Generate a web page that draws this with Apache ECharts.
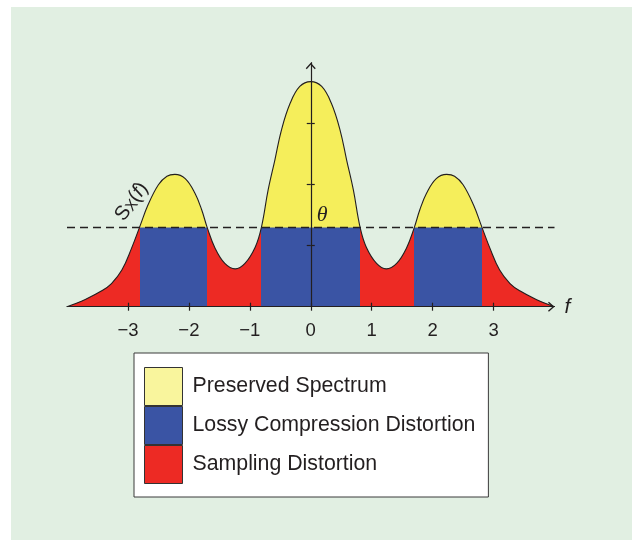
<!DOCTYPE html>
<html>
<head>
<meta charset="utf-8">
<script src="https://cdn.jsdelivr.net/npm/echarts@6/dist/echarts.min.js"></script>
<style>
html,body{margin:0;padding:0;background:#ffffff;}
#wrap{position:relative;width:637px;height:540px;overflow:hidden;}
#panel{position:absolute;left:11px;top:7px;width:621px;height:533px;background:#e1efe2;}
#chart{position:absolute;left:0;top:0;width:637px;height:540px;}
</style>
</head>
<body>
<div id="wrap"><div id="panel"></div><div id="chart"></div></div>
<script>
// ---- data ----
const fValues = [-4.00,-3.70,-3.43,-3.27,-3.10,-2.94,-2.81,-2.67,-2.50,-2.36,-2.23,-2.06,-1.90,-1.79,-1.70,-1.57,-1.41,-1.24,-1.08,-0.91,-0.81,-0.70,-0.59,-0.48,-0.34,-0.18,0.00,
                 0.18,0.34,0.48,0.59,0.70,0.81,0.91,1.08,1.24,1.41,1.57,1.70,1.79,1.90,2.06,2.23,2.36,2.50,2.67,2.81,2.94,3.10,3.27,3.43,3.70,4.00];
const sxValues = [0.00,0.12,0.26,0.38,0.60,0.96,1.30,1.67,2.00,2.14,2.17,2.10,1.86,1.59,1.30,0.96,0.71,0.62,0.71,0.98,1.30,1.91,2.40,2.90,3.33,3.61,3.69,
                  3.61,3.33,2.90,2.40,1.91,1.30,0.98,0.71,0.62,0.71,0.96,1.30,1.59,1.86,2.10,2.17,2.14,2.00,1.67,1.30,0.96,0.60,0.38,0.26,0.12,0.00];
const THETA = 1.30;
const xTickValues = [-3,-2,-1,0,1,2,3];
const yTickValues = [1,2,3];
const legendNames = ['Preserved Spectrum','Lossy Compression Distortion','Sampling Distortion'];
const axisName = 'f';
const thetaLabel = 'θ';

// ---- styles ----
const YELLOW = '#f5ee5b', YELLOW_LEGEND = '#f9f59d', BLUE = '#3a54a4', RED = '#ed2a24', INK = '#231f20';
const CLEAR = 'rgba(237,42,36,0)';
const SMOOTH = 0.4;
const ARROW = 'path://M0,5.6 L5,0 L10,5.6 L9,6.5 L5,2 L1,6.5 Z';
const SX_LABEL_AT = [-2.94, 1.72];
const SX_LABEL_ROTATE = 54;

// ---- derived series data ----
const curve = fValues.map((f, i) => [f, sxValues[i]]);
const thetaBand = fValues.map(f => [f, THETA]);          // coloured by interval below
const crossings = fValues.filter((f, i) => sxValues[i] === THETA);
const edges = [fValues[0]].concat(crossings, [fValues[fValues.length - 1]]);
function makePieces(outsideColor, insideColor) {
  const out = [];
  for (let i = 0; i < edges.length - 1; i++) {
    out.push({ gte: edges[i], lte: edges[i + 1], color: i % 2 === 0 ? outsideColor : insideColor });
  }
  return out;
}

const axisLineStyle = { color: INK, width: 1.2 };
const chart = echarts.init(document.getElementById('chart'), null, { renderer: 'canvas' });

chart.setOption({
  animation: false,
  backgroundColor: 'transparent',
  grid: { left: 67, right: 82.5, top: 62.7, bottom: 233.3, containLabel: false, outerBoundsMode: 'none' },
  legend: {
    orient: 'vertical', left: 134, top: 353,
    itemWidth: 38, itemHeight: 38, itemGap: 0,
    padding: [14, 13, 13, 10],
    backgroundColor: '#ffffff', borderColor: '#3a3a3a', borderWidth: 1,
    icon: 'rect', selectedMode: false,
    itemStyle: { borderColor: '#333333', borderWidth: 1 },
    textStyle: { fontFamily: 'Liberation Sans', fontSize: 21.3, color: INK, padding: [0, 0, 0, 5] },
    data: [
      { name: legendNames[0], itemStyle: { color: YELLOW_LEGEND } },
      { name: legendNames[1], itemStyle: { color: BLUE } },
      { name: legendNames[2], itemStyle: { color: RED } }
    ]
  },
  visualMap: [
    { type: 'piecewise', show: false, seriesIndex: 0, dimension: 0, pieces: makePieces(RED, YELLOW) },
    { type: 'piecewise', show: false, seriesIndex: 1, dimension: 0, pieces: makePieces(RED, CLEAR) },
    { type: 'piecewise', show: false, seriesIndex: 2, dimension: 0, pieces: makePieces(CLEAR, BLUE) }
  ],
  xAxis: [
    {
      type: 'value', min: -4, max: 4, z: 10,
      name: axisName, nameLocation: 'end', nameGap: 10,
      nameTextStyle: { fontFamily: 'Liberation Sans', fontStyle: 'italic', fontSize: 21, color: INK },
      axisLine: { show: true, onZero: true, onZeroAxisIndex: 0, symbol: ['none', ARROW], symbolSize: [10, 6.5], symbolOffset: [0, -3.25], lineStyle: axisLineStyle },
      axisTick: { show: true, customValues: xTickValues, length: 4, lineStyle: axisLineStyle },
      axisLabel: { show: true, customValues: xTickValues, margin: 15, fontFamily: 'Liberation Sans', fontSize: 18.5, color: INK,
                   formatter: v => String(v).replace('-', '\u2212') },
      splitLine: { show: false }
    },
    {
      type: 'value', min: -4, max: 4, position: 'top', z: 10,
      axisLine: { show: false, onZero: true, onZeroAxisIndex: 1 },
      axisTick: { show: true, customValues: xTickValues, length: 4, lineStyle: axisLineStyle },
      axisLabel: { show: false }, splitLine: { show: false }
    }
  ],
  yAxis: [
    {
      type: 'value', min: 0, max: 4, z: 10,
      axisLine: { show: true, onZero: true, onZeroAxisIndex: 0, symbol: ['none', ARROW], symbolSize: [10, 6.5], symbolOffset: [0, -3.25], lineStyle: axisLineStyle },
      axisTick: { show: true, customValues: yTickValues, length: 4, lineStyle: axisLineStyle },
      axisLabel: { show: false }, splitLine: { show: false }
    },
    {
      type: 'value', min: 0, max: 4, position: 'right', z: 10,
      axisLine: { show: false, onZero: true, onZeroAxisIndex: 1 },
      axisTick: { show: true, customValues: yTickValues, length: 4, lineStyle: axisLineStyle },
      axisLabel: { show: false }, splitLine: { show: false }
    }
  ],
  series: [
    { name: legendNames[0], type: 'line', data: curve, smooth: SMOOTH, symbol: 'none', silent: true, z: 1,
      lineStyle: { width: 0 }, areaStyle: { opacity: 1 } },
    { name: legendNames[2], type: 'line', data: curve, smooth: SMOOTH, symbol: 'none', silent: true, z: 2,
      lineStyle: { width: 0 }, areaStyle: { opacity: 1 } },
    { name: legendNames[1], type: 'line', data: thetaBand, smooth: false, symbol: 'none', silent: true, z: 3,
      lineStyle: { width: 0 }, areaStyle: { opacity: 1 } },
    { name: 'outline', type: 'line', data: curve, smooth: SMOOTH, symbol: 'none', silent: true, z: 4,
      lineStyle: { color: INK, width: 1.1 },
      markLine: {
        silent: true, symbol: ['none', 'none'], z: 6,
        lineStyle: { color: INK, type: [8, 5], width: 1.4 },
        label: { show: true, formatter: thetaLabel, position: 'insideMiddleTop', distance: 1,
                 fontFamily: 'Liberation Serif', fontStyle: 'italic', fontSize: 22, color: INK, padding: [0, 0, 0, 23] },
        emphasis: { disabled: true },
        data: [{ yAxis: THETA }]
      }
    }
  ]
});

const p = chart.convertToPixel({ xAxisIndex: 0, yAxisIndex: 0 }, SX_LABEL_AT);
chart.setOption({
  graphic: [{
    type: 'text', x: p[0], y: p[1], z: 10, silent: true,
    rotation: SX_LABEL_ROTATE * Math.PI / 180,
    style: {
      text: '{s|S}{sub|X}{p|(}{i|f}{p|)}',
      align: 'center', verticalAlign: 'middle', fill: INK,
      rich: {
        s: { fontFamily: 'Liberation Sans', fontSize: 20, fill: INK },
        sub: { fontFamily: 'Liberation Sans', fontSize: 15, fill: INK, verticalAlign: 'bottom' },
        p: { fontFamily: 'Liberation Sans', fontSize: 20, fill: INK },
        i: { fontFamily: 'Liberation Sans', fontStyle: 'italic', fontSize: 20, fill: INK }
      }
    }
  }]
});
</script>
</body>
</html>
